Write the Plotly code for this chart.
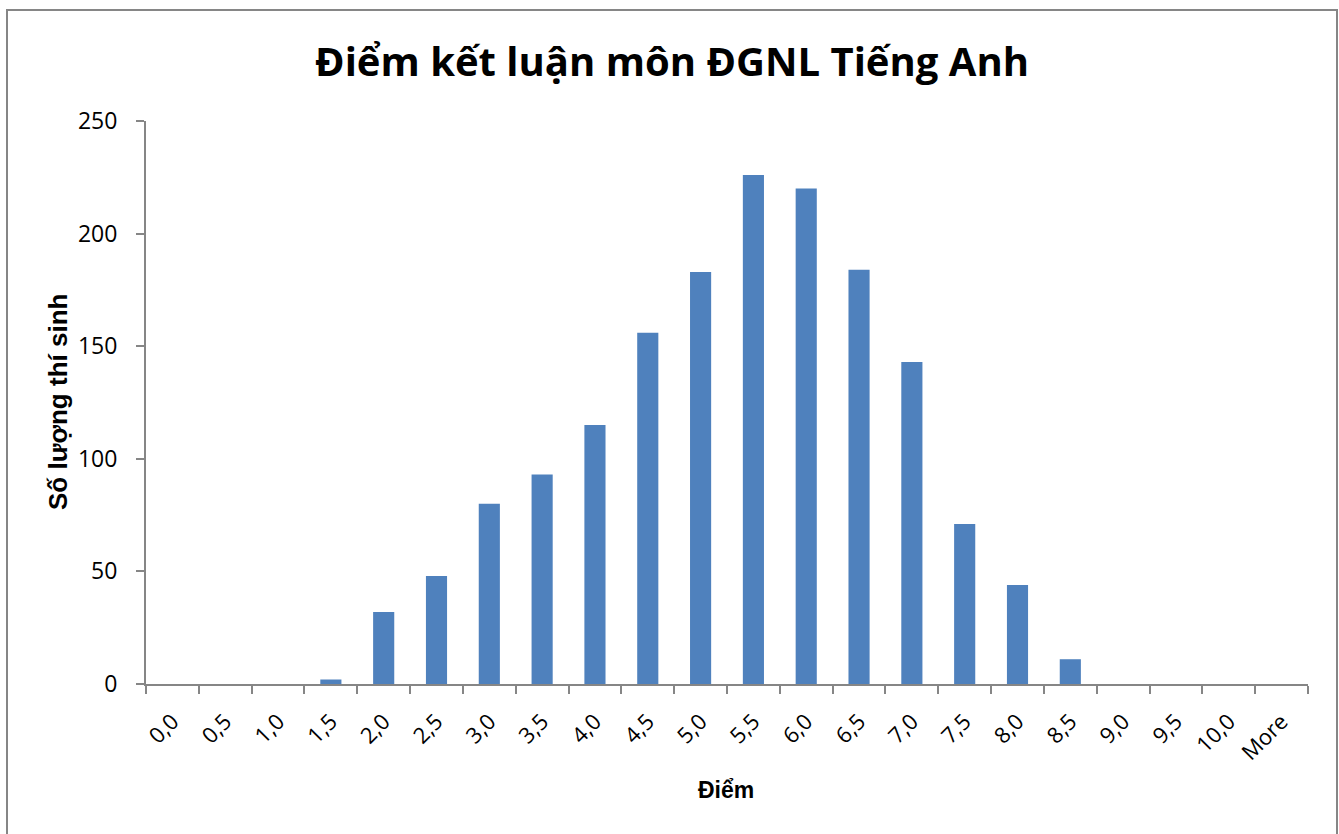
import plotly.graph_objects as go

categories = ["0,0", "0,5", "1,0", "1,5", "2,0", "2,5", "3,0", "3,5", "4,0", "4,5", "5,0",
              "5,5", "6,0", "6,5", "7,0", "7,5", "8,0", "8,5", "9,0", "9,5", "10,0", "More"]
counts = [0, 0, 0, 2, 32, 48, 80, 93, 115, 156, 183,
          226, 220, 184, 143, 71, 44, 11, 0, 0, 0, 0]
y_ticks = [0, 50, 100, 150, 200, 250]

W, H = 1339, 834
L, R, T, B = 146, 31, 121, 150
pw, ph = W - L - R, H - T - B

def px_x(x):
    return (x - L) / pw

def px_y(y):
    return (H - B - y) / ph

fig = go.Figure(go.Bar(
    x=categories, y=counts,
    marker=dict(color="#4F81BD", line=dict(width=0)),
))

axis_col = "#868686"
fig.update_layout(
    width=W, height=H,
    margin=dict(l=L, r=R, t=T, b=B),
    paper_bgcolor="white", plot_bgcolor="white",
    bargap=0.6,
    showlegend=False,
    title=dict(text="<b>Điểm kết luận môn ĐGNL Tiếng Anh</b>",
               x=672 / W, xanchor="center", y=1 - 62 / H, yanchor="middle",
               font=dict(family="Open Sans", size=40, color="black")),
    xaxis=dict(type="category", showline=True, linecolor=axis_col, linewidth=2,
               ticks="outside", ticklen=8, tickcolor=axis_col, tickwidth=2,
               tickson="boundaries", tickangle=-45, ticklabelstandoff=14,
               tickfont=dict(family="Open Sans", size=22, color="black"),
               showgrid=False, zeroline=False),
    yaxis=dict(range=[0, 250], tickvals=y_ticks, showline=True, linecolor=axis_col,
               linewidth=2, ticks="outside", ticklen=8, tickcolor=axis_col, tickwidth=2,
               ticklabelstandoff=14,
               tickfont=dict(family="Open Sans", size=23, color="black"),
               showgrid=False, zeroline=False),
    shapes=[dict(type="rect", xref="paper", yref="paper",
                 x0=px_x(7), x1=px_x(1337), y0=px_y(845), y1=px_y(10),
                 line=dict(color="#868686", width=2), fillcolor="rgba(0,0,0,0)", layer="below")],
    annotations=[
        dict(text="<b>Số lượng thí sinh</b>", xref="paper", yref="paper",
             x=px_x(58), y=px_y(402), textangle=-90, showarrow=False,
             xanchor="center", yanchor="middle",
             font=dict(family="Liberation Sans", size=26, color="black")),
        dict(text="<b>Điểm</b>", xref="paper", yref="paper",
             x=px_x(726), y=px_y(790), showarrow=False,
             xanchor="center", yanchor="middle",
             font=dict(family="Liberation Sans", size=23, color="black")),
    ],
)

fig.write_html("out.html", config={"displayModeBar": False},
               post_script="document.body.style.margin='0';document.body.style.overflow='hidden';")
